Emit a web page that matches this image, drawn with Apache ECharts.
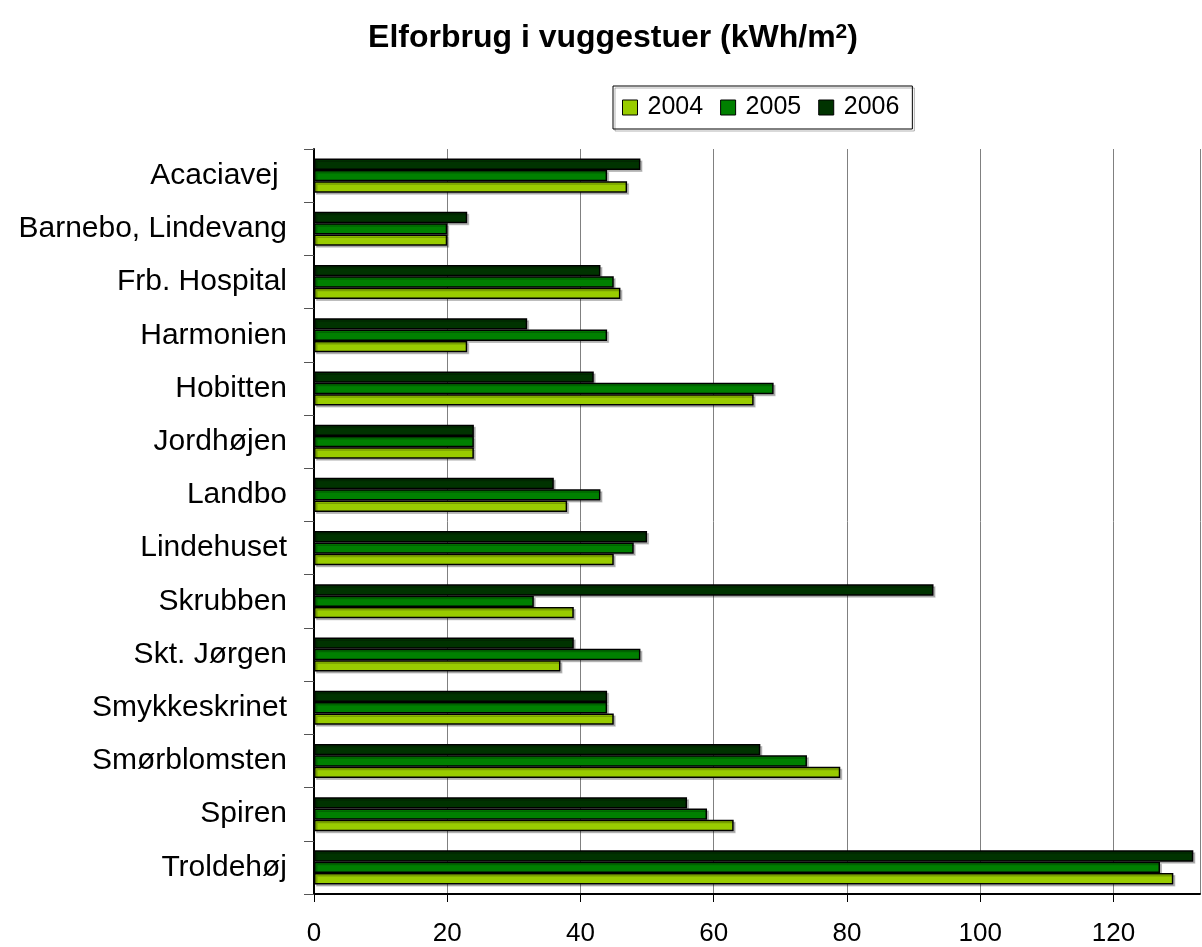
<!DOCTYPE html>
<html style="height: 100%">
    <head>
        <meta charset="utf-8">
        <title>Elforbrug i vuggestuer</title>
        <script src="https://cdn.jsdelivr.net/npm/echarts@6/dist/echarts.min.js"></script>
    </head>
    <body style="height: 100%; margin: 0; background: #fff">
        <div id="container" style="width: 1202px; height: 947px"></div>
        <script type="text/javascript">
var categories = ['Acaciavej ', 'Barnebo, Lindevang', 'Frb. Hospital', 'Harmonien', 'Hobitten',
    'Jordhøjen', 'Landbo', 'Lindehuset', 'Skrubben', 'Skt. Jørgen', 'Smykkeskrinet',
    'Smørblomsten', 'Spiren', 'Troldehøj'];
var v2004 = [47, 20, 46, 23, 66, 24, 38, 45, 39, 37, 45, 79, 63, 129];
var v2005 = [44, 20, 45, 44, 69, 24, 43, 48, 33, 49, 44, 74, 59, 127];
var v2006 = [49, 23, 43, 32, 42, 24, 36, 50, 93, 39, 44, 67, 56, 132];
var years = ['2004', '2005', '2006'];
var colors = {'2004': '#99cc00', '2005': '#008000', '2006': '#003300'};

var font = 'Liberation Sans, Arial, sans-serif';
var dom = document.getElementById("container");
var myChart = echarts.init(dom);

function bar(name, data) {
    return {
        name: name,
        type: 'bar',
        data: data,
        barGap: '0%',
        barCategoryGap: '36%',
        itemStyle: {
            color: colors[name],
            borderColor: '#000',
            borderWidth: 1.5,
            shadowColor: 'rgba(0,0,0,0.22)',
            shadowOffsetX: 2,
            shadowOffsetY: 2
        }
    };
}

var option = {
  animation: false,
  textStyle: { fontFamily: font },
  title: {
    text: '{t|Elforbrug i vuggestuer (kWh/m}{s|2}{t|)}',
    left: 608,
    textAlign: 'center',
    top: 17,
    textStyle: {
      fontFamily: font,
      rich: {
        t: { fontSize: 32, fontWeight: 'bold', color: '#000', fontFamily: font },
        s: { fontSize: 21, fontWeight: 'bold', color: '#000', fontFamily: font, verticalAlign: 'top' }
      }
    }
  },
  legend: {
    data: years,
    left: 613,
    top: 86,
    icon: 'rect',
    padding: [9, 13, 9, 9],
    itemGap: 17,
    itemWidth: 15,
    itemHeight: 15,
    borderColor: '#000',
    borderWidth: 1,
    shadowColor: 'rgba(0,0,0,0.3)',
    shadowOffsetX: 2,
    shadowOffsetY: 2,
    itemStyle: { borderColor: '#000', borderWidth: 1 },
    textStyle: { fontSize: 25, color: '#000', padding: [0, 0, 0, 5], fontFamily: font }
  },
  grid: {
    left: 314,
    right: 2,
    top: 149,
    bottom: 52
  },
  xAxis: {
    type: 'value',
    min: 0,
    max: 133,
    interval: 20,
    axisLine: { show: true, lineStyle: { color: '#000', width: 2 } },
    axisTick: { show: true, length: 8, lineStyle: { color: '#000' } },
    axisLabel: { fontSize: 26, color: '#000', margin: 27, showMaxLabel: false, fontFamily: font },
    splitLine: { show: true, lineStyle: { color: '#808080', width: 1 } }
  },
  yAxis: {
    type: 'category',
    data: categories,
    inverse: true,
    axisLine: { show: true, lineStyle: { color: '#000', width: 2 } },
    axisTick: { show: true, length: 10, lineStyle: { color: '#555' } },
    axisLabel: { fontSize: 30, color: '#000', margin: 27, fontFamily: font }
  },
  series: [
    bar('2006', v2006),
    bar('2005', v2005),
    bar('2004', v2004)
  ]
};

myChart.setOption(option);
        </script>
    </body>
</html>
